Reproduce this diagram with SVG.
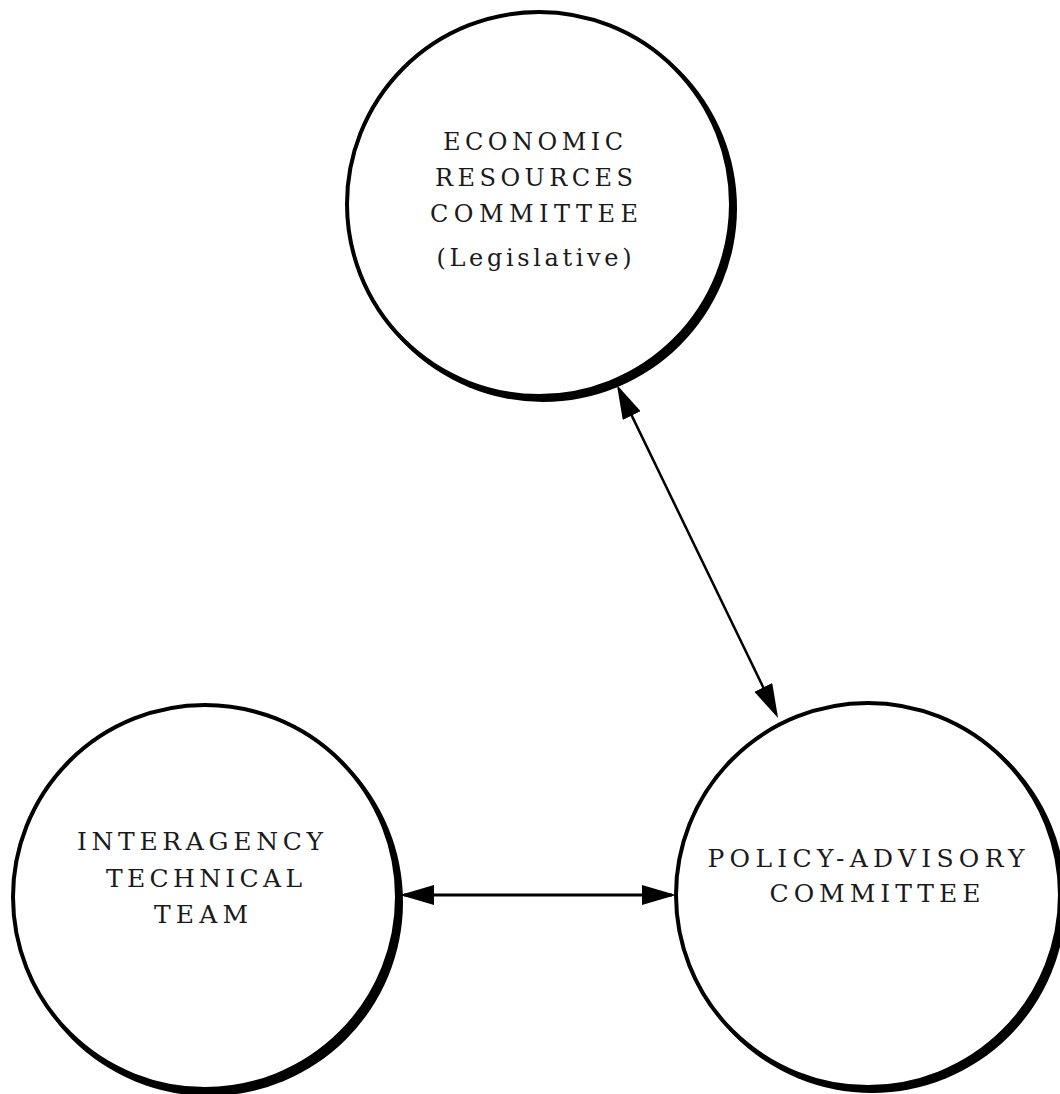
<svg xmlns="http://www.w3.org/2000/svg" width="1060" height="1094" viewBox="0 0 1060 1094">
<style>
.shadow{fill:#000;stroke:none}
.ring{fill:#fff;stroke:#000;stroke-width:4}
.lbl{font-family:"DejaVu Serif","Liberation Serif",serif;font-size:25px;fill:#1a1a1a;text-anchor:middle}
.lbl.top{font-size:24px}
.conn{stroke:#000;fill:none}
</style>
<defs>
<marker id="ah" viewBox="0 0 34 20" markerWidth="34" markerHeight="20" markerUnits="userSpaceOnUse" refX="30" refY="10" orient="auto-start-reverse">
<path d="M0,0 L34,10 L0,20 Z" fill="#000"/>
</marker>
</defs>
<rect width="1060" height="1094" fill="#fff"/>
<g id="node-economic">
<circle class="shadow" cx="543" cy="208" r="194"/>
<circle class="ring" cx="539" cy="204" r="192"/>
<text class="lbl top" x="533" y="150" textLength="180" lengthAdjust="spacing">ECONOMIC</text>
<text class="lbl top" x="534" y="186" textLength="198" lengthAdjust="spacing">RESOURCES</text>
<text class="lbl top" x="534" y="222" textLength="208" lengthAdjust="spacing">COMMITTEE</text>
<text class="lbl top" x="534" y="266" textLength="195" lengthAdjust="spacing">(Legislative)</text>
</g>
<g id="node-interagency">
<circle class="shadow" cx="209" cy="902" r="194"/>
<circle class="ring" cx="205" cy="897" r="192"/>
<text class="lbl" x="200" y="850" textLength="246" lengthAdjust="spacing">INTERAGENCY</text>
<text class="lbl" x="204" y="887" textLength="196" lengthAdjust="spacing">TECHNICAL</text>
<text class="lbl" x="201" y="923" textLength="94" lengthAdjust="spacing">TEAM</text>
</g>
<g id="node-policy">
<circle class="shadow" cx="872" cy="899" r="194"/>
<circle class="ring" cx="868" cy="895" r="192"/>
<text class="lbl" x="866" y="867" textLength="317" lengthAdjust="spacing">POLICY-ADVISORY</text>
<text class="lbl" x="875" y="902" textLength="211" lengthAdjust="spacing">COMMITTEE</text>
</g>
<g id="connectors">
<line class="conn" x1="618.7" y1="388.6" x2="776.3" y2="714.4" stroke-width="2.5" marker-start="url(#ah)" marker-end="url(#ah)"/>
<line class="conn" x1="404" y1="895" x2="672" y2="895" stroke-width="3" marker-start="url(#ah)" marker-end="url(#ah)"/>
</g>
</svg>
